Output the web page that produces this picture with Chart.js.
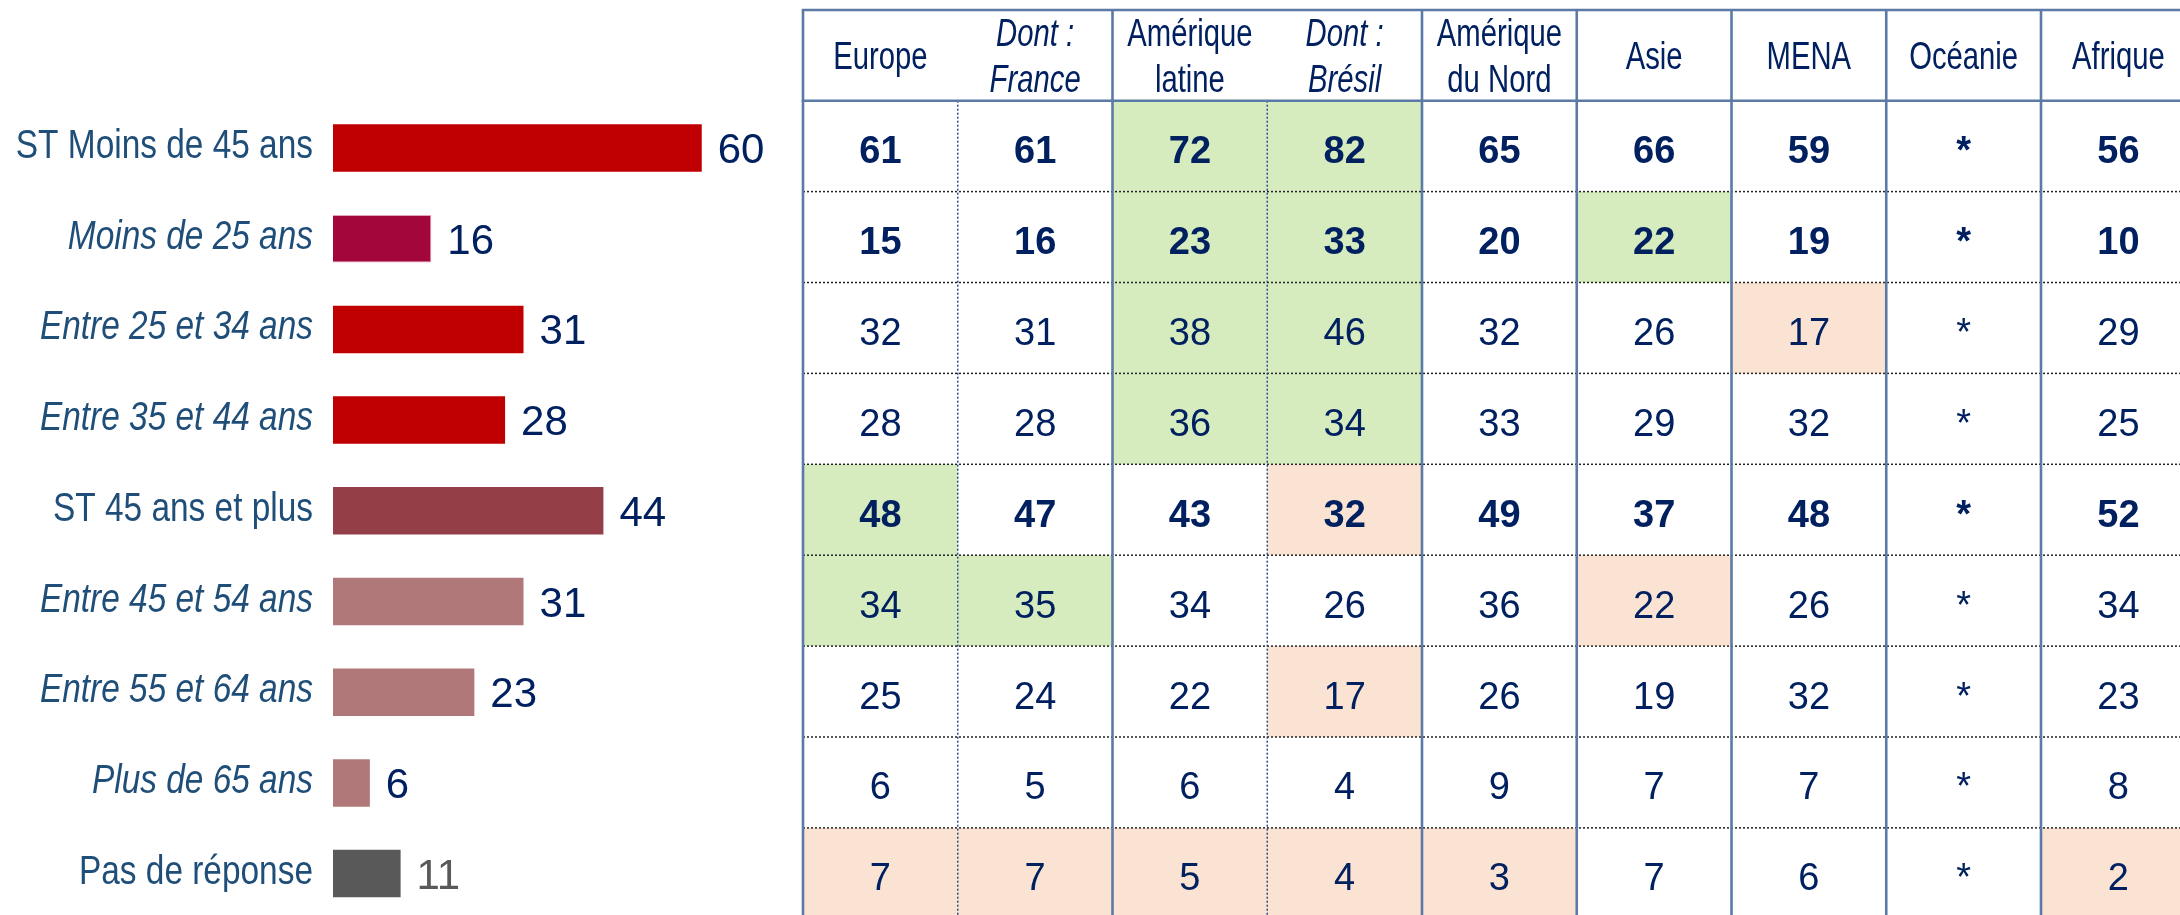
<!DOCTYPE html>
<html lang="fr">
<head>
<meta charset="utf-8">
<title>Âge des répondants par région</title>
<script src="https://cdn.jsdelivr.net/npm/chart.js@4.4.1/dist/chart.umd.min.js"></script>
<style>
  html, body { margin:0; padding:0; background:#fff; width:2180px; height:915px; overflow:hidden; }
  .wrap { position:absolute; top:0; }
  #ageWrap { left:0; }
  #regionWrap { left:790px; }
</style>
</head>
<body>
<div class="wrap" id="ageWrap"><canvas id="ageChart" width="800" height="920"></canvas></div>
<div class="wrap" id="regionWrap"><canvas id="regionTable" width="1420" height="920"></canvas></div>
<script>
// tranches d'âge (ensemble)
const ageGroups = ['ST Moins de 45 ans','Moins de 25 ans','Entre 25 et 34 ans','Entre 35 et 44 ans','ST 45 ans et plus','Entre 45 et 54 ans','Entre 55 et 64 ans','Plus de 65 ans','Pas de réponse'];
const totalValues = [60,16,31,28,44,31,23,6,11];
const subRows = [1,2,3,5,6,7];        // sous-tranches, en italique
const boldRows = [0,1,4];             // lignes en gras dans le tableau

// régions
const regions = ['Europe',['Dont :','France'],['Amérique','latine'],['Dont :','Brésil'],['Amérique','du Nord'],'Asie','MENA','Océanie','Afrique'];
const subRegions = [1,3];
// null = effectif trop faible (*)
const europe     = [61,15,32,28,48,34,25,6,7];
const france     = [61,16,31,28,47,35,24,5,7];
const ameriqueLat= [72,23,38,36,43,34,22,6,5];
const bresil     = [82,33,46,34,32,26,17,4,4];
const ameriqueN  = [65,20,32,33,49,36,26,9,3];
const asie       = [66,22,26,29,37,22,19,7,7];
const mena       = [59,19,17,32,48,26,32,7,6];
const oceanie    = [null,null,null,null,null,null,null,null,null];
const afrique    = [56,10,29,25,52,34,23,8,2];
// écart significatif : 1 = au-dessus, -1 = en dessous
const sigEurope  = [0,0,0,0,1,1,0,0,-1];
const sigFrance  = [0,0,0,0,0,1,0,0,-1];
const sigAmLat   = [1,1,1,1,0,0,0,0,-1];
const sigBresil  = [1,1,1,1,-1,0,-1,0,-1];
const sigAmNord  = [0,0,0,0,0,0,0,0,-1];
const sigAsie    = [0,1,0,0,0,-1,0,0,0];
const sigMena    = [0,0,-1,0,0,0,0,0,0];
const sigOceanie = [0,0,0,0,0,0,0,0,0];
const sigAfrique = [0,0,0,0,0,0,0,0,-1];

const regionValues = [europe,france,ameriqueLat,bresil,ameriqueN,asie,mena,oceanie,afrique];
const regionSig = [sigEurope,sigFrance,sigAmLat,sigBresil,sigAmNord,sigAsie,sigMena,sigOceanie,sigAfrique];

const SANS = "'Liberation Sans',Arial,sans-serif";
const NAVY = '#002060';
const barColors = ['#C00000','#A2063A','#C00000','#C00000','#943F47','#B07878','#B07878','#B07878','#595959'];

// pas de police étroite installée : on comprime horizontalement
function narrowText(ctx, text, x, y, align, sx){
  ctx.save();
  ctx.translate(x, y);
  ctx.scale(sx, 1);
  ctx.textAlign = align;
  ctx.fillText(text, 0, 0);
  ctx.restore();
}

const ageLabels = {
  id:'ageLabels',
  afterDatasetsDraw(chart){
    const {ctx} = chart;
    const meta = chart.getDatasetMeta(0);
    ctx.save();
    ctx.textBaseline = 'alphabetic';
    meta.data.forEach((bar,i)=>{
      // libellé de la tranche, aligné à droite
      ctx.fillStyle = '#1F4E79';
      ctx.font = (subRows.includes(i) ? 'italic ' : '') + '41px ' + SANS;
      narrowText(ctx, ageGroups[i], chart.chartArea.left - 20, bar.y + 10, 'right', 0.815);
      // valeur au bout de la barre
      ctx.font = '42px ' + SANS;
      ctx.textAlign = 'left';
      ctx.fillStyle = i===ageGroups.length-1 ? '#595959' : NAVY;
      ctx.fillText(String(totalValues[i]), bar.x + 16, bar.y + 15);
    });
    ctx.restore();
  }
};

new Chart(document.getElementById('ageChart'), {
  type:'bar',
  data:{ labels: ageGroups, datasets:[{
    data: totalValues, backgroundColor: barColors,
    borderColor: '#E4A3B5', borderWidth: totalValues.map((v,i)=> i===1 ? 1 : 0),
    categoryPercentage:1, barPercentage:0.524
  }] },
  options:{
    responsive:false, animation:false, indexAxis:'y',
    layout:{ padding:{ top:102.65, bottom:1.05, left:333, right:36.8 } },
    plugins:{ legend:{display:false}, tooltip:{enabled:false} },
    scales:{
      x:{ min:0, max:70, display:false },
      y:{ display:false }
    }
  },
  plugins:[ageLabels]
});

// tableau par région, cellules placées sur les échelles catégorielles
const regionGrid = {
  id:'regionGrid',
  afterDraw(chart){
    const {ctx, chartArea:a} = chart;
    const x = chart.scales.x, y = chart.scales.y;
    const hw = (x.getPixelForValue(1) - x.getPixelForValue(0))/2;
    const hh = (y.getPixelForValue(1) - y.getPixelForValue(0))/2;
    const headTop = 10;
    ctx.save();
    // fonds
    regionValues.forEach((col,j)=>{
      const cx = x.getPixelForValue(j);
      col.forEach((v,i)=>{
        const s = regionSig[j][i];
        if(!s) return;
        const cy = y.getPixelForValue(i);
        ctx.fillStyle = s>0 ? '#D6EBBE' : '#FBE3D3';
        ctx.fillRect(cx-hw, cy-hh, hw*2, hh*2);
      });
    });
    // lignes pointillées horizontales
    ctx.setLineDash([2,2]);
    ctx.lineWidth = 1.5;
    ctx.strokeStyle = '#222';
    for(let i=1;i<ageGroups.length;i++){
      const yy = y.getPixelForValue(i) - hh;
      ctx.beginPath(); ctx.moveTo(a.left, yy); ctx.lineTo(a.right, yy); ctx.stroke();
    }
    // pointillés verticaux (sous-régions)
    ctx.strokeStyle = '#2E4A8A';
    subRegions.forEach(j=>{
      const xx = x.getPixelForValue(j) - hw;
      ctx.beginPath(); ctx.moveTo(xx, a.top); ctx.lineTo(xx, a.bottom); ctx.stroke();
    });
    // bordures pleines
    ctx.setLineDash([]);
    ctx.lineWidth = 2.6;
    ctx.strokeStyle = '#5B7AA5';
    regions.forEach((r,j)=>{
      if(subRegions.includes(j)) return;
      const xx = x.getPixelForValue(j) - hw;
      ctx.beginPath(); ctx.moveTo(xx, headTop); ctx.lineTo(xx, a.bottom); ctx.stroke();
    });
    [headTop, a.top].forEach(yy=>{
      ctx.beginPath(); ctx.moveTo(a.left-1.3, yy); ctx.lineTo(a.right, yy); ctx.stroke();
    });
    // en-têtes
    ctx.fillStyle = NAVY;
    ctx.textBaseline = 'alphabetic';
    const mid = (headTop + a.top)/2;
    regions.forEach((r,j)=>{
      const lines = Array.isArray(r) ? r : [r];
      ctx.font = (subRegions.includes(j) ? 'italic ' : '') + '39px ' + SANS;
      const lh = 46;
      const first = mid - (lines.length-1)*lh/2 + 14;
      lines.forEach((t,k)=> narrowText(ctx, t, x.getPixelForValue(j), first + k*lh, 'center', 0.75));
    });
    // valeurs
    ctx.textAlign = 'center';
    regionValues.forEach((col,j)=>{
      const cx = x.getPixelForValue(j);
      col.forEach((v,i)=>{
        ctx.font = (boldRows.includes(i) ? 'bold ' : '') + '38px ' + SANS;
        ctx.fillText(v===null ? '*' : String(v), cx, y.getPixelForValue(i) + 17);
      });
    });
    ctx.restore();
  }
};

new Chart(document.getElementById('regionTable'), {
  type:'bar',
  data:{ labels: regions.map(r=>Array.isArray(r) ? r.join(' ') : r), datasets:[] },
  options:{
    responsive:false, animation:false,
    layout:{ padding:{ left:13, right:14.25, top:100.7, bottom:1.2 } },
    plugins:{ legend:{display:false}, tooltip:{enabled:false} },
    scales:{
      x:{ type:'category', display:false, offset:true },
      y:{ type:'category', labels: ageGroups, display:false, offset:true }
    }
  },
  plugins:[regionGrid]
});
</script>
</body>
</html>
